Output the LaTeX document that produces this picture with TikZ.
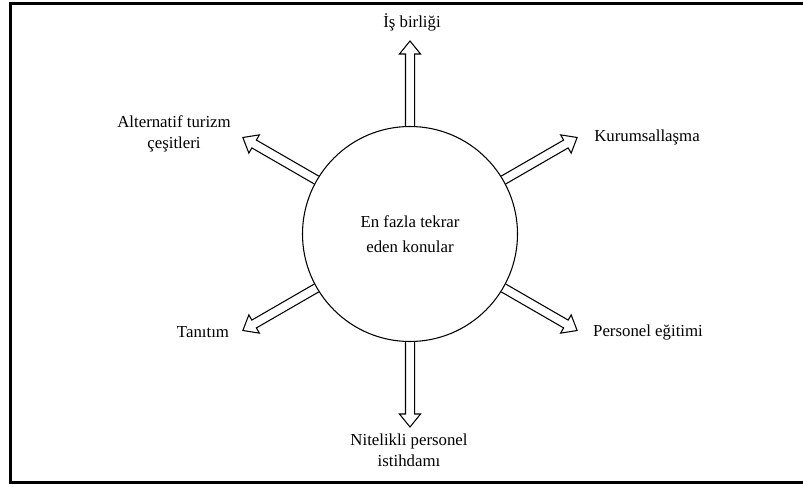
\documentclass[tikz,border=0pt]{standalone}
\usepackage{fontspec}
\setmainfont{Liberation Serif}
\usetikzlibrary{calc}
\tikzset{
  hollow/.style={draw=black, line width=0.8pt, line join=miter,
    to path={
      ($(\tikztotarget)!9.75pt!(\tikztostart)$) coordinate (hb)
      ($(\tikztostart)!3.4pt!90:(\tikztotarget)$) -- ($(hb)!3.4pt!90:(\tikztotarget)$) -- ($(hb)!7.9pt!90:(\tikztotarget)$) -- (\tikztotarget) -- ($(hb)!7.9pt!-90:(\tikztotarget)$) -- ($(hb)!3.4pt!-90:(\tikztotarget)$) -- ($(\tikztostart)!3.4pt!-90:(\tikztotarget)$)
    }},
  lbl/.style={font=\fontsize{12.6}{15.5}\selectfont, align=center, inner sep=0pt},
  hub/.style={draw=black, circle, line width=0.8pt, minimum size=161.25pt, inner sep=0pt,
    font=\fontsize{12.6}{19}\selectfont, align=center},
  frame/.style={draw=black, line width=2pt},
}
\begin{document}
\begin{tikzpicture}[x=0.75pt,y=0.75pt]
\useasboundingbox (0,0) rectangle (803,486);
\draw[frame] (803,482.5) -- (10.3,482.5) -- (10.3,3.2) -- (803,3.2);
\node[hub] (c) at (410,252) {En fazla tekrar\\eden konular};
\coordinate (t1) at ($(c)+(90:193)$);
\coordinate (t2) at ($(c)+(30:193)$);
\coordinate (t3) at ($(c)+(150:193)$);
\coordinate (t4) at ($(c)+(210:193)$);
\coordinate (t5) at ($(c)+(-30:193)$);
\coordinate (t6) at ($(c)+(-90:193)$);
\draw[hollow] (c.90) to (t1);
\draw[hollow] (c.30) to (t2);
\draw[hollow] (c.150) to (t3);
\draw[hollow] (c.210) to (t4);
\draw[hollow] (c.-30) to (t5);
\draw[hollow] (c.-90) to (t6);
\node[lbl] (l1) at (412,464) {İş birliği};
\node[lbl] (l2) at (647,349) {Kurumsallaşma};
\node[lbl] (l3) at (174,352) {Alternatif turizm\\çeşitleri};
\node[lbl] (l4) at (203,154) {Tanıtım};
\node[lbl] (l5) at (648,154) {Personel eğitimi};
\node[lbl] (l6) at (409,36) {Nitelikli personel\\istihdamı};
\end{tikzpicture}
\end{document}
